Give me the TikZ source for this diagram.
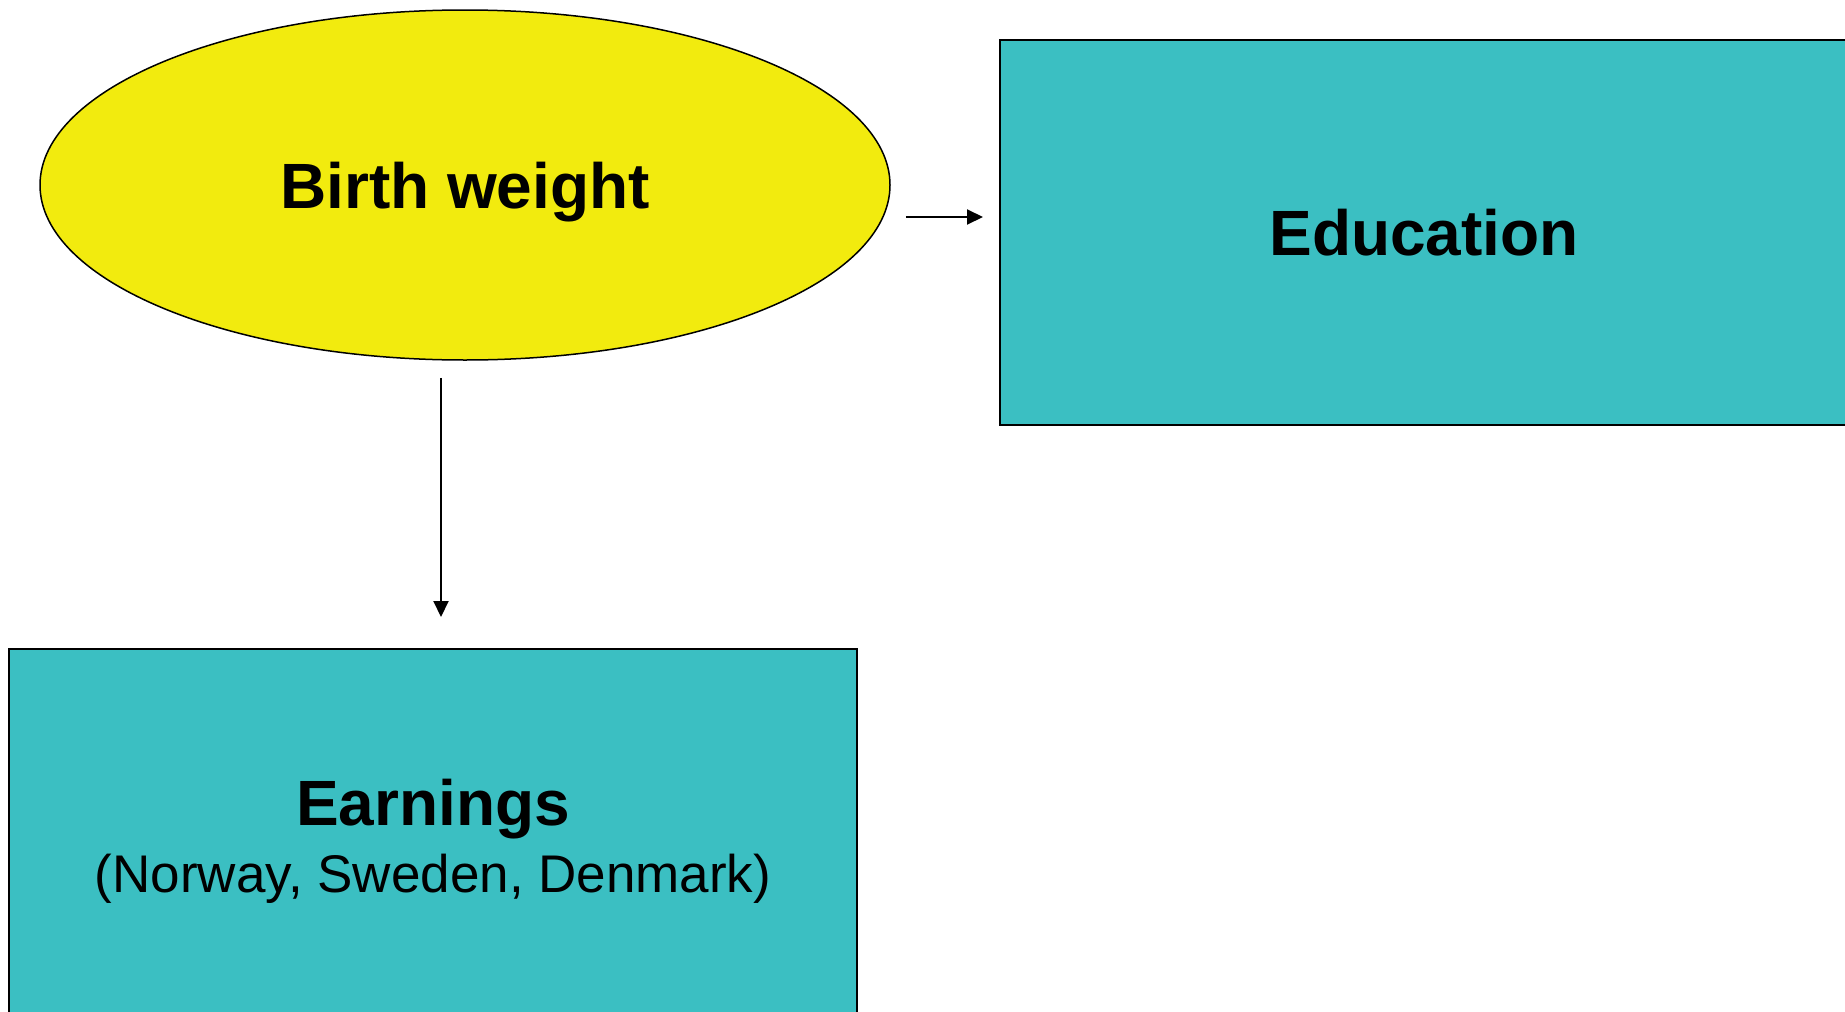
\documentclass[tikz,border=0pt]{standalone}
\usepackage{fontspec}
\setmainfont{Liberation Sans}
\usetikzlibrary{shapes.geometric,arrows.meta,calc}
\definecolor{bwyellow}{RGB}{242,235,14}
\definecolor{boxteal}{RGB}{59,191,194}
\begin{document}
\begin{tikzpicture}[
  bigfont/.style={font=\fontsize{64}{68}\selectfont\bfseries},
  tealbox/.style={rectangle,draw=black,line width=2pt,fill=boxteal,minimum width=848pt,minimum height=385pt,inner sep=0pt,align=center},
  arr/.style={line width=2pt,-{Triangle[length=16pt,width=15pt]}}
]
\useasboundingbox (0,0) rectangle (1845pt,-1012pt);
\clip (0,0) rectangle (1845pt,-1012pt);
\node[ellipse,draw=black,line width=1.5pt,fill=bwyellow,minimum width=850pt,minimum height=350pt,inner sep=0pt,bigfont,text height=50pt,text depth=3pt] (bw) at (465pt,-185pt) {Birth weight};
\node[tealbox,bigfont] (edu) at (1424pt,-232.5pt) {Education};
\node[tealbox] (earn) at (433pt,-841.5pt) {{\fontsize{64}{68}\selectfont\bfseries Earnings}\\[14pt]{\fontsize{53}{60}\selectfont (Norway, Sweden, Denmark)}};
\draw[arr] ($(bw.east)+(15pt,-32pt)$) -- ($(bw.east -| edu.west)+(-16pt,-32pt)$);
\draw[arr] ($(bw.south)+(-24pt,-17pt)$) -- ($(earn.north)+(8pt,31pt)$);
\end{tikzpicture}
\end{document}
